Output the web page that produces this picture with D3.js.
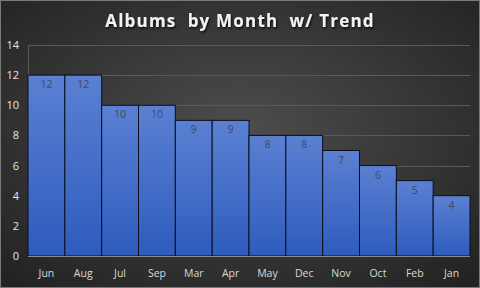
<!DOCTYPE html>
<html lang="en">
<head>
    <style>
        body { margin: 0; background: #2a2a2a; }
        svg { display: block; }
    </style>
</head>
<body>
    <svg width="480" height="288"></svg>
    <script src="https://cdn.jsdelivr.net/npm/d3@7"></script>
    <script>
        // Data
        const months = ["Jun", "Aug", "Jul", "Sep", "Mar", "Apr", "May", "Dec", "Nov", "Oct", "Feb", "Jan"];
        const albums = [12, 12, 10, 10, 9, 9, 8, 8, 7, 6, 5, 4];
        const yTicks = [0, 2, 4, 6, 8, 10, 12, 14];

        const svg = d3.select("svg");
        const W = 480, H = 288;
        const plot = { left: 28, right: 470, top: 45, bottom: 256 };

        const defs = svg.append("defs");

        // Background radial gradient
        const bg = defs.append("radialGradient").attr("id", "bgGrad")
            .attr("cx", "50%").attr("cy", "45%").attr("r", "70%");
        bg.append("stop").attr("offset", "0%").attr("stop-color", "#4d4d4d");
        bg.append("stop").attr("offset", "100%").attr("stop-color", "#232323");

        // Bar gradient
        const barGrad = defs.append("linearGradient").attr("id", "barGrad")
            .attr("x1", 0).attr("y1", 0).attr("x2", 0).attr("y2", 1);
        barGrad.append("stop").attr("offset", "0%").attr("stop-color", "#5b80d2");
        barGrad.append("stop").attr("offset", "100%").attr("stop-color", "#2e5cbd");

        // Title shadow
        const shadow = defs.append("filter").attr("id", "shadow");
        shadow.append("feDropShadow").attr("dx", 1).attr("dy", 1.5)
            .attr("stdDeviation", 1).attr("flood-color", "#000").attr("flood-opacity", 0.8);

        svg.append("rect").attr("width", W).attr("height", H).attr("fill", "url(#bgGrad)");
        svg.append("rect").attr("x", 0.5).attr("y", 0.5).attr("width", W - 1).attr("height", H - 1)
            .attr("fill", "none").attr("stroke", "#7a7a7a");

        const x = d3.scaleBand().domain(months).range([plot.left, plot.right]).padding(0);
        const y = d3.scaleLinear().domain([0, 14]).range([plot.bottom, plot.top]);

        // Gridlines
        svg.append("g").selectAll("line").data(yTicks.filter(d => d > 0)).join("line")
            .attr("x1", plot.left).attr("x2", plot.right)
            .attr("y1", d => Math.round(y(d)) + 0.5).attr("y2", d => Math.round(y(d)) + 0.5)
            .attr("stroke", "#5a5a5a").attr("stroke-width", 1);

        svg.append("line")
            .attr("x1", plot.left + 0.5).attr("x2", plot.left + 0.5)
            .attr("y1", plot.top).attr("y2", plot.bottom)
            .attr("stroke", "#5a5a5a");

        // Bars
        svg.append("g").selectAll("rect").data(albums).join("rect")
            .attr("x", (d, i) => x(months[i]))
            .attr("y", d => y(d))
            .attr("width", x.bandwidth())
            .attr("height", d => plot.bottom - y(d))
            .attr("fill", "url(#barGrad)")
            .attr("stroke", "#0a0f1e").attr("stroke-width", 1);

        // Value labels
        svg.append("g").selectAll("text").data(albums).join("text")
            .attr("x", (d, i) => x(months[i]) + x.bandwidth() / 2)
            .attr("y", d => y(d) + 13)
            .attr("text-anchor", "middle")
            .attr("font-family", "Open Sans, sans-serif").attr("font-size", 10.5)
            .attr("fill", "#3f4a5e")
            .text(d => d);

        // Bottom axis line
        svg.append("line")
            .attr("x1", plot.left).attr("x2", plot.right)
            .attr("y1", plot.bottom + 0.5).attr("y2", plot.bottom + 0.5)
            .attr("stroke", "#8a8a8a");

        // Y axis labels
        svg.append("g").selectAll("text").data(yTicks).join("text")
            .attr("x", 19).attr("y", d => y(d) + 4)
            .attr("text-anchor", "end")
            .attr("font-family", "Open Sans, sans-serif").attr("font-size", 11)
            .attr("fill", "#e6e6e6")
            .text(d => d);

        // X axis labels
        svg.append("g").selectAll("text").data(months).join("text")
            .attr("x", d => x(d) + x.bandwidth() / 2).attr("y", 277)
            .attr("text-anchor", "middle")
            .attr("font-family", "Open Sans, sans-serif").attr("font-size", 10.5)
            .attr("fill", "#d9d9d9")
            .text(d => d);

        // Title
        svg.append("text")
            .attr("x", 240).attr("y", 27)
            .attr("text-anchor", "middle")
            .attr("font-family", "Open Sans, sans-serif").attr("font-weight", "bold")
            .attr("font-size", 17).attr("fill", "#f2f2f2")
            .attr("letter-spacing", 1.2)
            .attr("filter", "url(#shadow)")
            .style("white-space", "pre")
            .text("Albums  by Month  w/ Trend");
    </script>
</body>
</html>
